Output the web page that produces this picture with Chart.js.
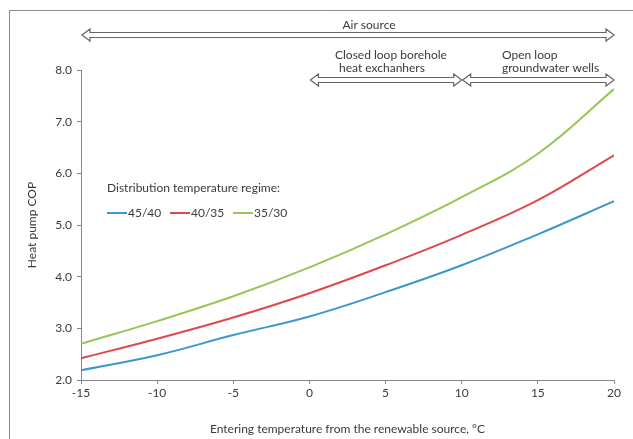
<!DOCTYPE html>
<html>
<head>
<meta charset="utf-8">
<script src="https://cdn.jsdelivr.net/npm/chart.js@4.4.0/dist/chart.umd.min.js"></script>
<style>
  html, body { margin: 0; padding: 0; background: #fff; }
  #wrap { width: 633px; height: 439px; position: relative; }
</style>
</head>
<body>
<div id="wrap"><canvas id="CopChart"></canvas></div>
<script>
// entering temperature, degC
var temps = [-15, -10, -5, 0, 5, 10, 15, 20];
// heat pump COP per distribution regime
var cop4540 = [2.19, 2.48, 2.87, 3.23, 3.70, 4.22, 4.82, 5.46];
var cop4035 = [2.42, 2.80, 3.21, 3.68, 4.22, 4.81, 5.48, 6.35];
var cop3530 = [2.70, 3.14, 3.62, 4.18, 4.82, 5.54, 6.38, 7.63];
var seriesNames = ['45/40', '40/35', '35/30'];
var seriesColors = ['#3d97cf', '#e0474f', '#96c653'];
// source ranges shown as arrows: [from, to, row]
var ranges = [[-15, 20, 0], [0, 10, 1], [10, 20, 1]];

var FONT = 'Lato, "Open Sans", sans-serif';

function pts(vals) {
    return temps.map(function (t, i) { return { x: t, y: vals[i] }; });
}

function arrow(ctx, x0, x1, y) {
    var h = 8, w = 6, s = 2.5;
    ctx.beginPath();
    ctx.moveTo(x0, y);
    ctx.lineTo(x0 + h, y - w);
    ctx.lineTo(x0 + h, y - s);
    ctx.lineTo(x1 - h, y - s);
    ctx.lineTo(x1 - h, y - w);
    ctx.lineTo(x1, y);
    ctx.lineTo(x1 - h, y + w);
    ctx.lineTo(x1 - h, y + s);
    ctx.lineTo(x0 + h, y + s);
    ctx.lineTo(x0 + h, y + w);
    ctx.closePath();
    ctx.fillStyle = '#fff';
    ctx.fill();
    ctx.strokeStyle = '#666';
    ctx.lineWidth = 1.2;
    ctx.stroke();
}

var extras = {
    id: 'extras',
    afterDraw: function (chart) {
        var ctx = chart.ctx;
        var xs = chart.scales.x;
        ctx.save();
        // frame
        ctx.strokeStyle = '#8a8a8a';
        ctx.lineWidth = 1;
        ctx.beginPath();
        ctx.moveTo(9.5, 439);
        ctx.lineTo(9.5, 10.5);
        ctx.lineTo(633, 10.5);
        ctx.stroke();

        var rowY = [35, 80];
        ranges.forEach(function (r) {
            arrow(ctx, xs.getPixelForValue(r[0]) + 1, xs.getPixelForValue(r[1]), rowY[r[2]]);
        });

        ctx.fillStyle = '#3a3a3a';
        ctx.font = '12px ' + FONT;
        ctx.textBaseline = 'middle';
        ctx.textAlign = 'center';
        ctx.fillText('Air source', 369, 25);
        ctx.textAlign = 'left';
        ctx.fillText('Closed loop borehole', 335, 55);
        ctx.fillText('heat exchanhers', 339, 68);
        ctx.fillText('Open loop', 502, 55);
        ctx.fillText('groundwater wells', 502, 68);

        // legend
        ctx.fillText('Distribution temperature regime:', 107, 188);
        var lx = [107, 170, 233];
        seriesNames.forEach(function (n, i) {
            ctx.strokeStyle = seriesColors[i];
            ctx.lineWidth = 2;
            ctx.beginPath();
            ctx.moveTo(lx[i], 213);
            ctx.lineTo(lx[i] + 20, 213);
            ctx.stroke();
            ctx.fillText(n, lx[i] + 21, 213);
        });
        ctx.restore();
    }
};

var ctx = document.getElementById('CopChart').getContext('2d');
var myChart = new Chart(ctx, {
    type: 'line',
    data: {
        datasets: [
            { label: seriesNames[0], data: pts(cop4540), borderColor: seriesColors[0] },
            { label: seriesNames[1], data: pts(cop4035), borderColor: seriesColors[1] },
            { label: seriesNames[2], data: pts(cop3530), borderColor: seriesColors[2] }
        ]
    },
    options: {
        responsive: true,
        maintainAspectRatio: false,
        animation: false,
        devicePixelRatio: 1,
        layout: { padding: { left: 0, top: 70, right: 19, bottom: 0 } },
        elements: {
            line: { borderWidth: 2, tension: 0.4 },
            point: { radius: 0 }
        },
        plugins: { legend: { display: false }, tooltip: { enabled: false } },
        scales: {
            x: {
                type: 'linear',
                min: -15, max: 20,
                afterFit: function (s) { s.height = 59; },
                ticks: { stepSize: 5, color: '#3a3a3a', font: { family: FONT, size: 12 }, padding: 2 },
                grid: { drawOnChartArea: false, drawTicks: true, tickLength: 4, color: '#868686' },
                border: { color: '#868686' },
                title: { display: true, text: 'Entering temperature from the renewable source, °C',
                         color: '#3a3a3a', font: { family: FONT, size: 12 }, padding: { bottom: 3 } }
            },
            y: {
                min: 2, max: 8,
                afterFit: function (s) { s.width = 81; },
                ticks: { stepSize: 1, color: '#3a3a3a', font: { family: FONT, size: 12 }, padding: 5,
                         callback: function (v) { return v.toFixed(1); } },
                grid: { drawOnChartArea: false, drawTicks: true, tickLength: 4, color: '#868686' },
                border: { color: '#868686' },
                title: { display: true, text: 'Heat pump COP', color: '#3a3a3a',
                         font: { family: FONT, size: 12 }, padding: { top: 25 } }
            }
        }
    },
    plugins: [extras]
});
</script>
</body>
</html>
